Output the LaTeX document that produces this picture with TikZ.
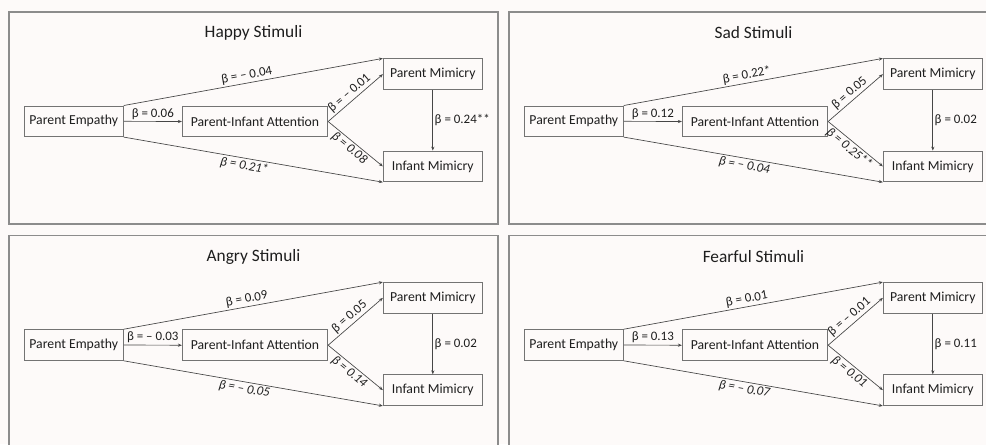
\documentclass[tikz,border=0pt]{standalone}
\usepackage{fontspec}
\setmainfont{Carlito}
\usetikzlibrary{arrows.meta}
\definecolor{bgc}{RGB}{253,250,249}
\definecolor{framec}{RGB}{140,140,140}
\definecolor{boxc}{RGB}{115,115,115}
\definecolor{arrc}{RGB}{70,70,70}
\definecolor{txtc}{RGB}{30,30,30}
\tikzset{
  box/.style={draw=boxc, line width=0.7pt, fill=bgc, inner sep=0pt, minimum height=23pt,
    text=txtc, font=\fontsize{10.3}{12}\selectfont},
  wbox/.style={box, minimum width=74.25pt},
  abox/.style={box, minimum width=109pt},
  conn/.style={draw=arrc, line width=0.5pt, -{Stealth[length=3pt,width=2.4pt]}},
  lab/.style={font=\fontsize{9.7}{11}\selectfont, text=txtc, inner sep=1.2pt},
  ilab/.style={font=\fontsize{9.7}{11}\selectfont\itshape, text=txtc, inner sep=1.2pt},
  ttl/.style={font=\fontsize{13}{15}\selectfont, text=txtc},
  panelframe/.style={draw=framec, line width=1.1pt, fill=bgc},
}
\newcommand{\mypanel}[4]{%
  \begin{scope}[shift={(#2,#3)}]
    \path[panelframe] (9,12) rectangle (498,224);
    \node[ttl] (#1t) at (253.5,33) {#4};
    \node[wbox] (#1pe) at (73.8,121.3) {Parent Empathy};
    \node[abox] (#1pia) at (255,121.5) {Parent-Infant Attention};
    \node[wbox] (#1pm) at (432.8,74.2) {Parent Mimicry};
    \node[wbox] (#1im) at (432.8,166.4) {Infant Mimicry};
    \draw[conn] (#1pe.north east) -- node[lab, sloped, above, pos=0.48] {\lA} (#1pm.north west);
    \draw[conn] (#1pe.east) -- node[lab, above, pos=0.5] {\lB} (#1pia.west);
    \draw[conn] (#1pe.south east) -- node[ilab, sloped, below, pos=0.47] {\lC} (#1im.south west);
    \draw[conn] (#1pia.east) -- node[lab, sloped, above, pos=0.48] {\lD} (#1pm.west);
    \draw[conn] (#1pia.east) -- node[ilab, sloped, below, pos=0.47] {\lE} (#1im.west);
    \draw[conn] (#1pm.south) -- node[lab, right] {\lF} (#1im.north);
  \end{scope}}
\begin{document}
\begin{tikzpicture}[x=0.75pt, y=-0.75pt]
  \useasboundingbox (0,0) rectangle (986,444);
  \clip (0,0) rectangle (986,444);
  \fill[bgc] (0,0) rectangle (986,444);
  \def\lA{β = – 0.04}\def\lB{β = 0.06}\def\lC{β = 0.21*}\def\lD{β = – 0.01}\def\lE{β = 0.08}\def\lF{β = 0.24**}
  \mypanel{h}{0}{0}{Happy Stimuli}
  \def\lA{β = 0.22*}\def\lB{β = 0.12}\def\lC{β = – 0.04}\def\lD{β = 0.05}\def\lE{β = 0.25**}\def\lF{β = 0.02}
  \mypanel{s}{500}{0}{Sad Stimuli}
  \def\lA{β = 0.09}\def\lB{β = – 0.03}\def\lC{β = – 0.05}\def\lD{β = 0.05}\def\lE{β = 0.14}\def\lF{β = 0.02}
  \mypanel{a}{0}{223.7}{Angry Stimuli}
  \def\lA{β = 0.01}\def\lB{β = 0.13}\def\lC{β = – 0.07}\def\lD{β = – 0.01}\def\lE{β = 0.01}\def\lF{β = 0.11}
  \mypanel{f}{500}{223.7}{Fearful Stimuli}
\end{tikzpicture}
\end{document}
